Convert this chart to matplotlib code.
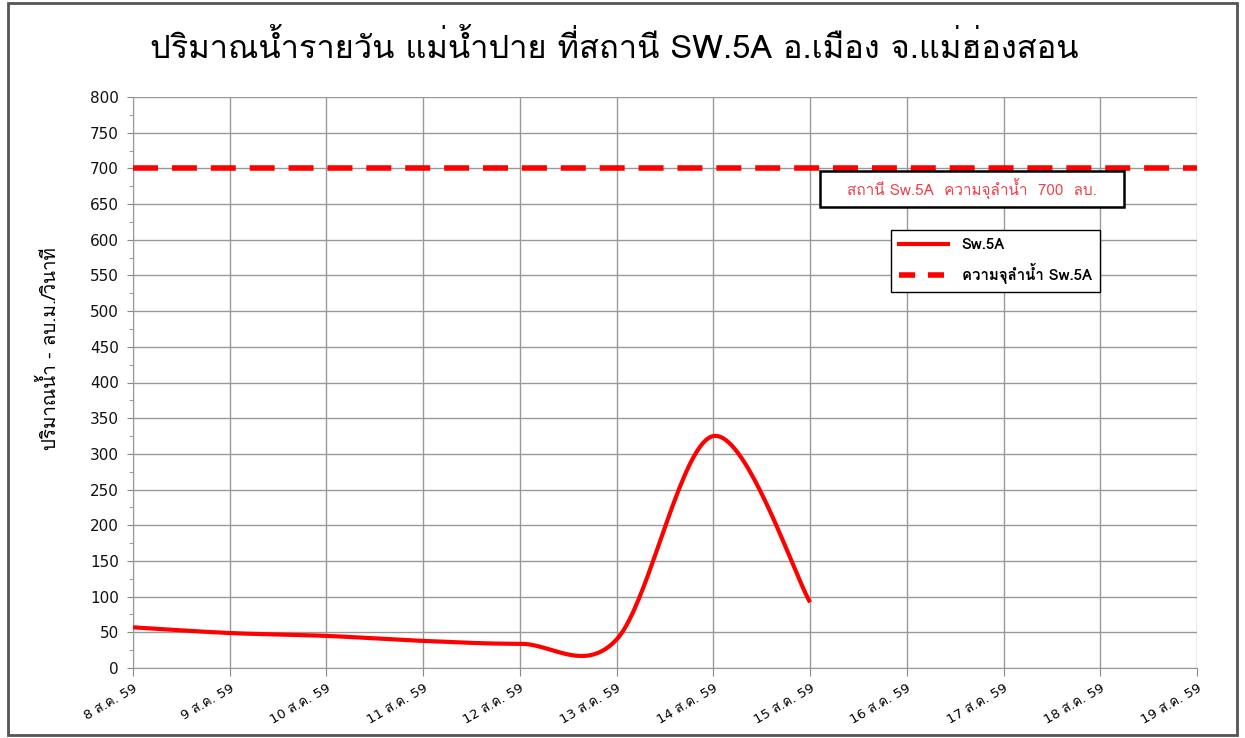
import numpy as np
import matplotlib
matplotlib.use("Agg")
import matplotlib.pyplot as plt
from matplotlib import font_manager
from matplotlib.ft2font import FT2Font
from matplotlib.patches import Rectangle
from matplotlib.lines import Line2D

# ---- data ----
dates = ["8 ส.ค. 59", "9 ส.ค. 59", "10 ส.ค. 59", "11 ส.ค. 59", "12 ส.ค. 59", "13 ส.ค. 59",
         "14 ส.ค. 59", "15 ส.ค. 59", "16 ส.ค. 59", "17 ส.ค. 59", "18 ส.ค. 59", "19 ส.ค. 59"]
flow = [57, 49, 45, 38, 34, 40, 325, 92]
capacity = 700
y_ticks = list(range(0, 801, 50))

# ---- find a Thai-capable font ----
thai_fonts = []
seen = set()
for f in font_manager.fontManager.ttflist:
    if f.name in seen:
        continue
    try:
        cm = FT2Font(f.fname).get_charmap()
        if 0x0E01 in cm and 0x0E33 in cm:
            thai_fonts.append(f.name)
            seen.add(f.name)
    except Exception:
        pass
thai = "Loma" if "Loma" in thai_fonts else (thai_fonts[0] if thai_fonts else "DejaVu Sans")
plt.rcParams['font.family'] = ["DejaVu Sans", thai]
TH = [thai, "DejaVu Sans"]


def smooth(xs, ys, n=40):
    # Catmull-Rom style smoothing through the points (like spreadsheet smoothed lines)
    P = np.column_stack([xs, ys]).astype(float)
    out = []
    for i in range(len(P) - 1):
        p0 = P[i - 1] if i > 0 else P[i]
        p1 = P[i]
        p2 = P[i + 1]
        p3 = P[i + 2] if i + 2 < len(P) else P[i + 1]
        c1 = p1 + (p2 - p0) / 6.0
        c2 = p2 - (p3 - p1) / 6.0
        t = np.linspace(0, 1, n)[:, None]
        seg = ((1 - t) ** 3) * p1 + 3 * ((1 - t) ** 2) * t * c1 + 3 * (1 - t) * t ** 2 * c2 + t ** 3 * p2
        out.append(seg if i == 0 else seg[1:])
    s = np.vstack(out)
    return s[:, 0], s[:, 1]


fig = plt.figure(figsize=(12.45, 7.38), dpi=100)
ax = fig.add_axes([133 / 1245, 1 - 668 / 738, 1064 / 1245, 571 / 738])

x = np.arange(len(flow))
sx, sy = smooth(x, flow)
ax.plot(sx, sy, color="#ff0000", lw=3, solid_capstyle="butt", zorder=4)
ax.plot([0, len(dates) - 1], [capacity, capacity], color="#ff0000", lw=4,
        dashes=(4.5, 2.5), zorder=4)

ax.set_xlim(0, len(dates) - 1)
ax.set_ylim(0, 800)
ax.set_yticks(y_ticks)
ax.set_yticks(np.arange(0, 801, 25), minor=True)
ax.set_xticks(range(len(dates)))
ax.set_xticklabels(dates, rotation=30, ha="right", rotation_mode="anchor", fontsize=9.5)
ax.tick_params(axis="y", labelsize=11, length=4, color="#888888", pad=6, labelcolor="#111111")
ax.tick_params(axis="y", which="minor", length=3, color="#888888")
ax.tick_params(axis="x", length=6, color="#888888", pad=4)
ax.grid(True, color="#999999", lw=1)
for s in ["top", "right"]:
    ax.spines[s].set_visible(False)
for s in ["left", "bottom"]:
    ax.spines[s].set_color("#999999")
ax.set_axisbelow(True)

ax.set_ylabel("ปริมาณน้ำ - ลบ.ม./วินาที", fontsize=13.5, family=TH)
ax.yaxis.set_label_coords(-0.069, 0.56)
fig.text(614 / 1245, 1 - 48 / 738, "ปริมาณน้ำรายวัน แม่น้ำปาย ที่สถานี SW.5A อ.เมือง จ.แม่ฮ่องสอน",
         ha="center", va="center", fontsize=23.5, family=TH)

# capacity note box
ax.add_patch(Rectangle((0.646, 0.807), 0.285, 0.063, transform=ax.transAxes,
                       facecolor="white", edgecolor="black", lw=1.8, zorder=5))
ax.text(0.646 + 0.285 / 2, 0.8385, "สถานี Sw.5A  ความจุลำน้ำ  700  ลบ.", transform=ax.transAxes,
        ha="center", va="center", color="#f0404a", fontsize=11, zorder=6,
        family=TH)

handles = [Line2D([], [], color="#ff0000", lw=3),
           Line2D([], [], color="#ff0000", lw=4, dashes=(2.9, 2.3))]
leg = ax.legend(handles, ["Sw.5A", "ความจุลำน้ำ Sw.5A"], loc="upper left",
                bbox_to_anchor=(0.712, 0.767), borderaxespad=0, fancybox=False, edgecolor="black",
                framealpha=1, handlelength=3.3, borderpad=0.55, labelspacing=0.7,
                handletextpad=0.9, prop={"family": TH, "size": 10.8, "weight": "bold"})
leg.get_frame().set_linewidth(1)
leg.set_zorder(6)

fig.patches.append(Rectangle((8 / 1245, 3 / 738), 1229 / 1245, 732 / 738, transform=fig.transFigure,
                             fill=False, edgecolor="#555555", lw=2))

fig.savefig("out.png", dpi=100)
